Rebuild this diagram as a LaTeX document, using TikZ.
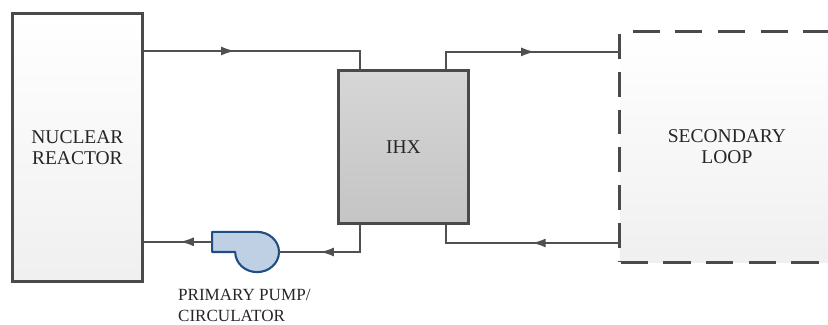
\documentclass[tikz,border=0pt]{standalone}
\usepackage{fontspec}
\setmainfont{Liberation Serif}
\usetikzlibrary{arrows.meta}
\definecolor{boxline}{HTML}{4A4A4A}
\definecolor{pipeline}{HTML}{505050}
\definecolor{pumpline}{HTML}{1F4E86}
\definecolor{pumpfill}{HTML}{C0D0E4}
\tikzset{
  pipe/.style={line width=1.6pt,draw=pipeline},
  flow/.style={pipe,-{Latex[length=4.6mm,width=3mm]}},
  vessel/.style={draw=boxline,line width=3.2pt,inner sep=0pt,align=center,text=black!85,font=\fontsize{18.5}{20}\selectfont},
  loopdash/.style={draw=boxline,line width=2.8pt}
}
\begin{document}
\begin{tikzpicture}
\useasboundingbox (0,0) rectangle (27.6,10.83);

% secondary side
\node[inner sep=0pt,top color=white,bottom color=black!6,text=black!85,minimum width=6.93cm,minimum height=7.67cm,align=center,font=\fontsize{18.5}{20}\selectfont] (secondary) at (24.13,5.93) {\hspace{.2cm}SECONDARY\\\hspace{.2cm}LOOP};
\draw[loopdash,dash pattern=on 23.6pt off 12.3pt] ([yshift=-.07cm]secondary.north west) -- (secondary.south west); % left
\draw[loopdash,dash pattern=on 25.5pt off 15pt] ([xshift=.43cm]secondary.north west) -- (secondary.north east); % top
\draw[loopdash,dash pattern=on 26pt off 14.5pt] ([xshift=.03cm]secondary.south west) -- (secondary.south east); % bottom

% vessels
\node[vessel,top color=white,bottom color=black!6,minimum width=4.33cm,minimum height=8.93cm] (reactor) at (2.58,5.92) {NUCLEAR\\REACTOR};
\node[vessel,top color=black!16,bottom color=black!23,minimum width=4.33cm,minimum height=5.1cm] (ihx) at (13.45,5.93) {IHX};

% pump
\draw[line width=2pt,draw=pumpline,fill=pumpfill,line join=round] (7.07,3.1) -- (8.57,3.1) arc[start angle=90,end angle=-180,x radius=.73,y radius=.67] -- (7.07,2.43) -- cycle;
\coordinate (pumpin) at (9.3,2.43);
\coordinate (pumpout) at (7.07,2.77);
\node[anchor=north west,inner sep=0pt,align=left,text=black!85,font=\fontsize{16.2}{20}\selectfont] (pumplabel) at (5.93,1.2) {PRIMARY PUMP/\\CIRCULATOR};

% hot leg
\coordinate (hotcorner) at (12,9.13);
\coordinate (hottip) at (7.83,9.13);
\draw[pipe] (reactor.east |- hotcorner) -- (hotcorner) -- (hotcorner |- ihx.north);
\draw[flow] (reactor.east |- hotcorner) -- (hottip);

% cold leg
\coordinate (coldcorner) at (12,2.43);
\coordinate (coldtip) at (10.67,2.43);
\coordinate (pumptip) at (6,2.77);
\draw[pipe] (ihx.south -| coldcorner) -- (coldcorner) -- (pumpin);
\draw[flow] (coldcorner) -- (coldtip);
\draw[pipe] (pumpout) -- (reactor.east |- pumpout);
\draw[flow] (pumpout) -- (pumptip);

% secondary pipes
\coordinate (supcorner) at (14.87,9.1);
\coordinate (suptip) at (17.83,9.1);
\draw[pipe] (supcorner |- ihx.north) -- (supcorner) -- (secondary.west |- supcorner);
\draw[flow] (supcorner) -- (suptip);
\coordinate (retcorner) at (14.87,2.73);
\coordinate (rettip) at (17.73,2.73);
\draw[pipe] (retcorner |- ihx.south) -- (retcorner) -- (secondary.west |- retcorner);
\draw[flow] (secondary.west |- retcorner) -- (rettip);

\end{tikzpicture}
\end{document}
